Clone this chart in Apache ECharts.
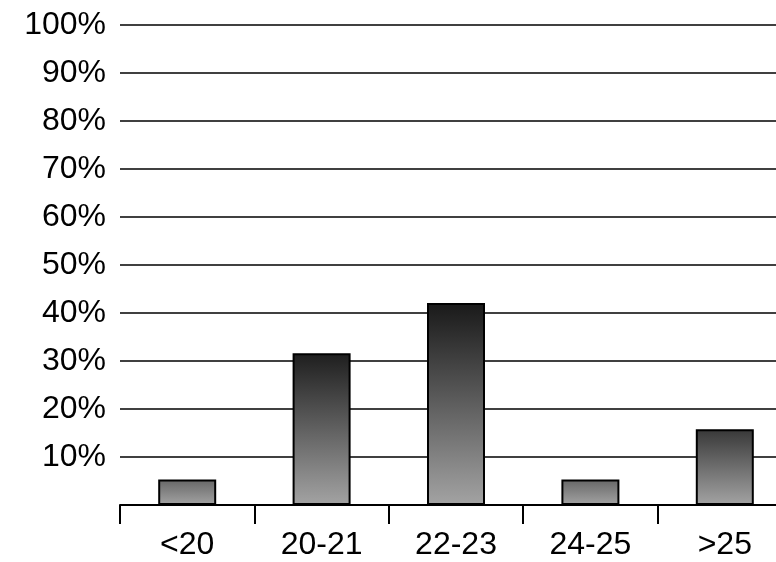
<!DOCTYPE html>
<html>
<head>
<meta charset="utf-8">
<style>html,body{margin:0;padding:0;background:#fff;overflow:hidden;width:776px;height:562px;}#c{width:792px;height:562px;}</style>
<script src="https://cdn.jsdelivr.net/npm/echarts@6/dist/echarts.min.js"></script>
</head>
<body>
<div id="c"></div>
<script>
const categories = ['<20', '20-21', '22-23', '24-25', '>25'];
const values = [5.3, 31.6, 42.1, 5.3, 15.8];
const topShades = ['#676767', '#1e1e1e', '#191919', '#676767', '#383838'];

const chart = echarts.init(document.getElementById('c'), null, {renderer: 'canvas'});
const data = values.map((v, i) => ({
  value: v,
  itemStyle: {
    color: new echarts.graphic.LinearGradient(0, 0, 0, 1, [
      {offset: 0, color: topShades[i]},
      {offset: 1, color: '#a3a3a3'}
    ])
  }
}));
chart.setOption({
  animation: false,
  grid: {left: 120, top: 25, right: 0, bottom: 57, containLabel: false},
  xAxis: {
    type: 'category',
    data: categories,
    axisLine: {lineStyle: {color: '#000', width: 2}},
    axisTick: {show: true, length: 19, lineStyle: {color: '#000', width: 2}},
    axisLabel: {color: '#000', fontSize: 32, fontFamily: 'Liberation Sans, Arial, sans-serif', margin: 24}
  },
  yAxis: {
    type: 'value',
    min: 0, max: 100, interval: 10,
    axisLine: {show: false},
    axisTick: {show: false},
    splitLine: {lineStyle: {color: '#000', width: 1.5}},
    axisLabel: {
      color: '#000', fontSize: 32, fontFamily: 'Liberation Sans, Arial, sans-serif', margin: 14,
      formatter: v => v === 0 ? '' : v + '%'
    }
  },
  series: [{
    type: 'bar',
    data: data,
    barWidth: 58,
    itemStyle: {borderColor: '#000', borderWidth: 2}
  }]
});
</script>
</body>
</html>
